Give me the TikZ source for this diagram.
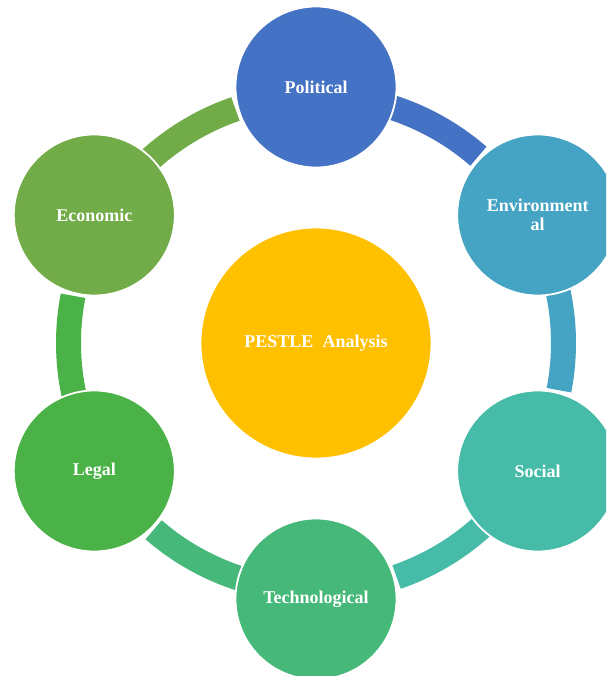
\documentclass[tikz,border=0pt]{standalone}
\usepackage{fontspec}
\setmainfont{Liberation Serif}
\definecolor{cpol}{HTML}{4472C4}
\definecolor{cenv}{HTML}{45A3C3}
\definecolor{csoc}{HTML}{45BBA8}
\definecolor{ctec}{HTML}{46B879}
\definecolor{cleg}{HTML}{4AB246}
\definecolor{ceco}{HTML}{71AC48}
\definecolor{ccen}{HTML}{FFC000}
\begin{document}
\begin{tikzpicture}[x=1pt,y=1pt,
  circ/.style={circle,draw=white,line width=1.8pt,minimum size=161pt,inner sep=0pt,
    text=white,align=center,font=\bfseries\fontsize{18}{19}\selectfont},
  band/.style={line width=25pt}]
\useasboundingbox (-316,-333) rectangle (290,343);
\clip (-316,-333) rectangle (290,343);
% ring segments
\draw[band,cpol] (90:247.5) arc[start angle=90,end angle=49,radius=247.5];
\draw[band,cenv] (30:247.5) arc[start angle=30,end angle=-11,radius=247.5];
\draw[band,csoc] (-30:247.5) arc[start angle=-30,end angle=-71,radius=247.5];
\draw[band,ctec] (-90:247.5) arc[start angle=-90,end angle=-131,radius=247.5];
\draw[band,cleg] (-150:247.5) arc[start angle=-150,end angle=-191,radius=247.5];
\draw[band,ceco] (150:247.5) arc[start angle=150,end angle=109,radius=247.5];
% circles
\node[circ,fill=ccen,minimum size=231pt] (cen) at (0,0) {PESTLE\ \ Analysis};
\node[circ,fill=cpol] (pol) at (90:256) {Political};
\node[circ,fill=cenv] (env) at (30:256) {Environment\\al};
\node[circ,fill=csoc] (soc) at (-30:256) {Social};
\node[circ,fill=ctec] (tec) at (-90:256) {Technological};
\node[circ,fill=cleg] (leg) at (-150:256) {Legal};
\node[circ,fill=ceco] (eco) at (150:256) {Economic};
\end{tikzpicture}
\end{document}
